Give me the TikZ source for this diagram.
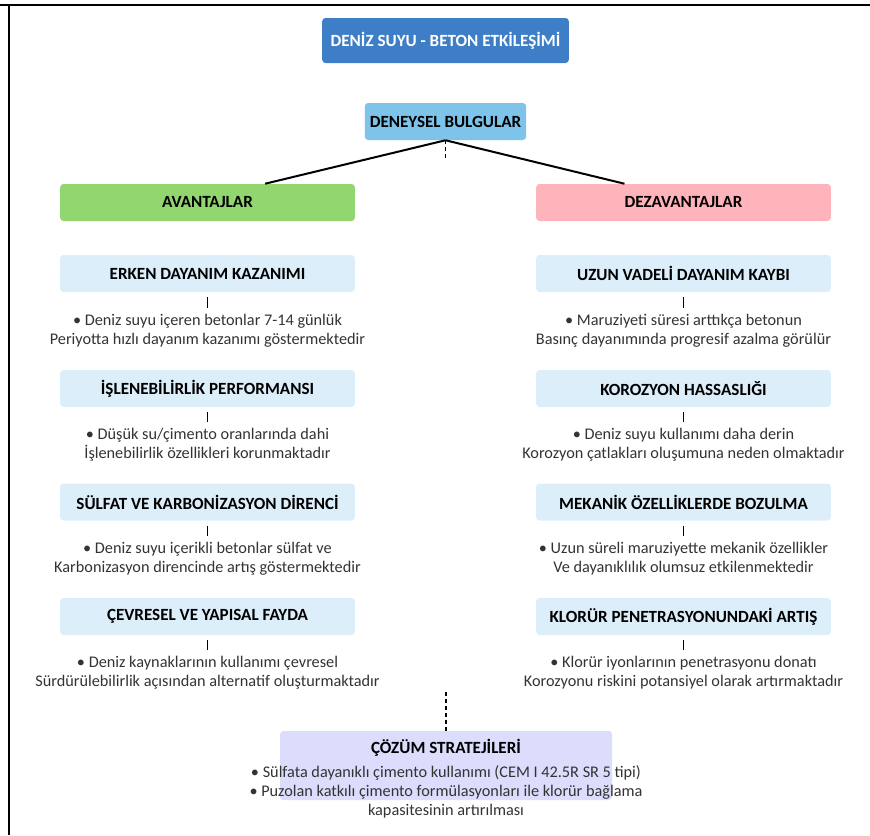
\documentclass[tikz,border=0pt]{standalone}
\usepackage{fontspec}
\setmainfont{Carlito}
\usepackage{xcolor}
\usepackage{tikz}
\usetikzlibrary{positioning,calc}
\definecolor{titleblue}{HTML}{3D7EC7}
\definecolor{skyblue}{HTML}{7DC3EA}
\definecolor{advgreen}{HTML}{92D66F}
\definecolor{disadvpink}{HTML}{FFB3BA}
\definecolor{itemblue}{HTML}{DDEEFB}
\definecolor{lavender}{HTML}{DCDCFC}
\definecolor{bodygray}{HTML}{333333}
\tikzset{
  box/.style={rounded corners=2.5pt, inner sep=0pt, font=\fontsize{12.8}{14}\selectfont\bfseries},
  sidebox/.style={box, minimum width=221pt, minimum height=27.75pt},
  itembox/.style={sidebox, fill=itemblue},
  body/.style={align=center, inner sep=0pt, text=bodygray, font=\fontsize{12.2}{14.25}\selectfont},
  bar/.style={line width=1.4pt, shorten <=3.75pt, shorten >=4.5pt},
  link/.style={line width=1.5pt}
}

\begin{document}
\begin{tikzpicture}[x=0.75pt, y=-0.75pt]
			\useasboundingbox (0,0) rectangle (870,835);
			% frame of the screenshot
			\draw[line width=1.5pt] (0,5) -- (870,5);
			\draw[line width=1.5pt] (9,5) -- (9,835);
			\node[box, fill=titleblue, text=white, minimum width=185pt, minimum height=33.75pt]
			                         (T) at (445.5,40.5)  {DENİZ SUYU - BETON ETKİLEŞİMİ};
			\node[box, fill=skyblue, minimum width=121pt, minimum height=27.75pt]
			                         (B) at (445.5,121.5) {DENEYSEL BULGULAR};
			\node[sidebox, fill=advgreen]   (A) at (207.5,202.5) {AVANTAJLAR};
			\node[sidebox, fill=disadvpink] (D) at (683.5,202.5) {DEZAVANTAJLAR};
			% advantages
			\node[itembox] (A1)  at (207.5,273.5) {ERKEN DAYANIM KAZANIMI};
			\node[body]    (A1') at (207.5,330.5) {• Deniz suyu içeren betonlar 7-14 günlük\\Periyotta hızlı dayanım kazanımı göstermektedir};
			\node[itembox] (A2)  at (207.5,388.5) {İŞLENEBİLİRLİK PERFORMANSI};
			\node[body]    (A2') at (207.5,445)   {• Düşük su/çimento oranlarında dahi\\İşlenebilirlik özellikleri korunmaktadır};
			\node[itembox] (A3)  at (207.5,502)   {SÜLFAT VE KARBONİZASYON DİRENCİ};
			\node[body]    (A3') at (207.5,558.5) {• Deniz suyu içerikli betonlar sülfat ve\\Karbonizasyon direncinde artış göstermektedir};
			\node[itembox] (A4)  at (207.5,616.5) {ÇEVRESEL VE YAPISAL FAYDA};
			\node[body]    (A4') at (207.5,673)   {• Deniz kaynaklarının kullanımı çevresel\\Sürdürülebilirlik açısından alternatif oluşturmaktadır};
			% disadvantages
			\node[itembox] (D1)  at (683.5,273.5) {UZUN VADELİ DAYANIM KAYBI};
			\node[body]    (D1') at (683.5,330.5) {• Maruziyeti süresi arttıkça betonun\\Basınç dayanımında progresif azalma görülür};
			\node[itembox] (D2)  at (683.5,388.5) {KOROZYON HASSASLIĞI};
			\node[body]    (D2') at (683.5,445)   {• Deniz suyu kullanımı daha derin\\Korozyon çatlakları oluşumuna neden olmaktadır};
			\node[itembox] (D3)  at (683.5,502)   {MEKANİK ÖZELLİKLERDE BOZULMA};
			\node[body]    (D3') at (683.5,558.5) {• Uzun süreli maruziyette mekanik özellikler\\Ve dayanıklılık olumsuz etkilenmektedir};
			\node[itembox] (D4)  at (683.5,616.5) {KLORÜR PENETRASYONUNDAKİ ARTIŞ};
			\node[body]    (D4') at (683.5,673)   {• Klorür iyonlarının penetrasyonu donatı\\Korozyonu riskini potansiyel olarak artırmaktadır};
			% solutions
			\node[box, fill=lavender, minimum width=249pt, minimum height=51.75pt]
			                         (S) at (446,765.5) {};
			\node[box]               (S1) at (446,748) {ÇÖZÜM STRATEJİLERİ};
			\node[body]              (S') at (446,792) {• Sülfata dayanıklı çimento kullanımı (CEM I 42.5R SR 5 tipi)\\• Puzolan katkılı çimento formülasyonları ile klorür bağlama\\kapasitesinin artırılması};
			\coordinate (B0) at (445.5,158);
			\coordinate (S0) at (446,692);
			\draw[link]   (B.south) to ($(A.north west)!0.695!(A.north east)$);
			\draw[link]   (B.south) to ($(D.north west)!0.30!(D.north east)$);
			\draw[line width=1.1pt, dash pattern=on 3pt off 2pt] (B.south) to (B0);
			\draw[line width=1.4pt, dash pattern=on 3pt off 2.2pt] (S0) to (S.north);
			\draw[bar]    (A1) to (A1');
			\draw[bar]    (A2) to (A2');
			\draw[bar]    (A3) to (A3');
			\draw[bar]    (A4) to (A4');
			\draw[bar]    (D1) to (D1');
			\draw[bar]    (D2) to (D2');
			\draw[bar]    (D3) to (D3');
			\draw[bar]    (D4) to (D4');
		\end{tikzpicture}
\end{document}
